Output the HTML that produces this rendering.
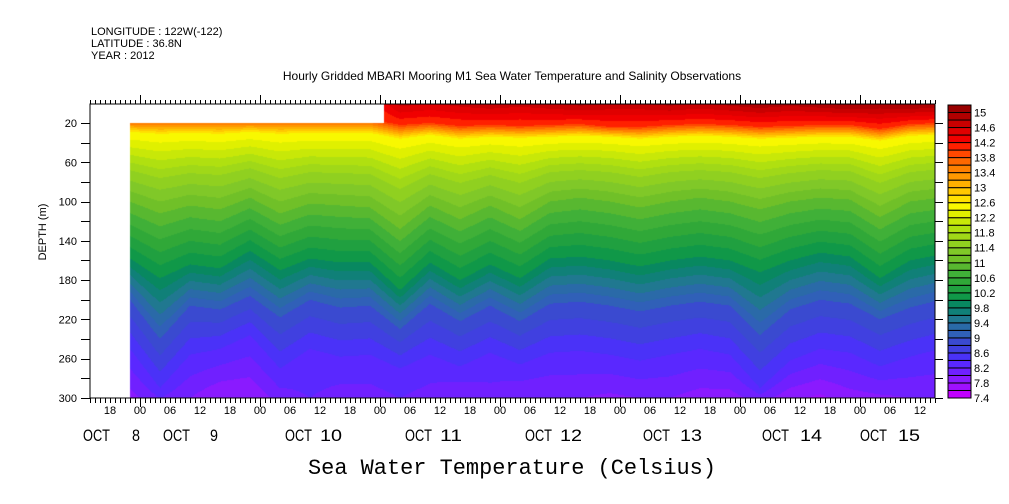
<!DOCTYPE html>
<html><head><meta charset="utf-8"><style>
html,body{margin:0;padding:0;background:#fff;width:1009px;height:504px;overflow:hidden}
#wrap{position:relative;width:1009px;height:504px}
canvas,svg{position:absolute;left:0;top:0}
text{font-family:"Liberation Sans",sans-serif;fill:#000}
</style></head><body>
<div id="wrap">
<canvas id="cv" width="1009" height="504"></canvas>
<svg id="sv" width="1009" height="504"></svg>
</div>
<script>
// ---- data (hours since Oct 8 00:00) ----
const times = [-2,4,10,16,22,28,34,40,46,52,58,64,70,76,82,88,94,100,106,112,118,124,130,136,142,148,154,160];
const surfTemp = [14.0,14.0,14.0,14.0,14.0,14.0,14.0,14.0,14.0,14.7,14.6,14.7,14.8,14.7,14.8,14.9,14.8,14.8,14.9,14.8,14.9,15.0,14.9,15.0,15.1,15.0,15.1,15.0];
const depth14 = [16,16,16,16,16,16,16,16,16,22,20,23,22,23,22,21,24,24,22,21,22,24,23,22,22,26,21,20];
const depth126 = [29,31,30,31,29,31,30,30,30,36,32,36,34,35,34,33,34,36,34,33,34,36,35,34,34,38,33,32];
const depth116 = [68,76,71,73,66,76,70,71,72,87,72,81,73,81,70,68,70,75,70,68,70,76,71,68,69,81,70,67];
const depth110 = [100,112,104,108,96,112,102,104,106,128,104,118,104,118,100,96,100,106,100,96,100,108,100,96,98,116,100,96];
const depth100 = [158,178,164,168,150,170,158,162,162,190,162,180,164,178,158,156,160,166,160,156,160,172,160,152,156,178,160,154];
const depth90 = [200,240,206,210,196,218,200,208,206,230,204,222,206,222,204,202,206,212,206,202,206,236,210,200,204,220,208,200];
const depth84 = [250,290,256,250,236,270,250,258,256,270,256,268,254,266,254,252,256,262,256,250,256,290,262,250,254,268,258,250];
const bottomTemp = [7.9,8.2,8.0,7.8,7.8,8.1,8.2,8.1,8.1,8.2,8.1,8.0,8.1,8.0,8.0,8.0,7.95,8.0,8.0,7.9,7.9,8.1,7.85,7.75,7.9,7.95,8.0,8.0];
const levelColors = ["#c000ff","#a010ff","#8a1aff","#7020ff","#5a28ff","#4a32f8","#4040e0","#3a4ad0","#3060b8","#2a6aa8","#207890","#108078","#088860","#109848","#20a040","#30a838","#40b038","#58b830","#70c028","#80c828","#90d020","#a0d818","#b0e010","#c8e808","#e0f000","#f8f800","#ffe000","#ffc800","#ffb000","#ff9800","#ff8000","#ff6800","#ff4800","#ff2000","#f00000","#e00000","#c80000","#b00000","#980000"];
const levelMin = 7.4, levelStep = 0.2;
const depthTicks = [20,60,100,140,180,220,260,300];
const hourLabels = ["18","00","06","12","18","00","06","12","18","00","06","12","18","00","06","12","18","00","06","12","18","00","06","12","18","00","06","12"];
const dayNames = ["8","9","10","11","12","13","14","15"];
const cbLabels = [15,14.6,14.2,13.8,13.4,13,12.6,12.2,11.8,11.4,11,10.6,10.2,9.8,9.4,9,8.6,8.2,7.8,7.4];

// ---- axes ----
const X0=90, X1=935, Y0=104, Y1=398;
const xs = h => 140 + 5*h;
const ys = d => 123 + (d-20)*0.982;
const dataStartH = -2, topDataStartH = 48.8, endH = 159;

// ---- heatmap ----
const cv=document.getElementById('cv'), ctx=cv.getContext('2d');
function hex(c){return [parseInt(c.slice(1,3),16),parseInt(c.slice(3,5),16),parseInt(c.slice(5,7),16)];}
const rgb=levelColors.map(hex);
const x0=Math.round(xs(dataStartH)), x1=Math.round(xs(endH));
const img=ctx.createImageData(x1-x0, Y1-Y0);
for(let px=x0;px<x1;px++){
  const h=(px+0.5-140)/5;
  let i=0; while(i<times.length-2 && times[i+1]<h) i++;
  const f=Math.max(0,Math.min(1,(h-times[i])/(times[i+1]-times[i])));
  const L=a=>a[i]+(a[i+1]-a[i])*f;
  const kd=[0,L(depth14),L(depth126),L(depth116),L(depth110),L(depth100),L(depth90),L(depth84),300];
  const kt=[L(surfTemp),14.0,12.6,11.6,11.0,10.0,9.0,8.4,L(bottomTemp)];
  for(let py=Y0;py<Y1;py++){
    const d=20+(py+0.5-123)/0.982;
    const o=((py-Y0)*(x1-x0)+(px-x0))*4;
    if(h<topDataStartH && d<20){img.data[o]=255;img.data[o+1]=255;img.data[o+2]=255;img.data[o+3]=255;continue;}
    let k=0; while(k<kd.length-2 && kd[k+1]<d) k++;
    const g=Math.max(0,Math.min(1,(d-kd[k])/(kd[k+1]-kd[k])));
    const T=kt[k]+(kt[k+1]-kt[k])*g;
    let b=Math.floor((T-levelMin)/levelStep); b=Math.max(0,Math.min(rgb.length-1,b));
    img.data[o]=rgb[b][0];img.data[o+1]=rgb[b][1];img.data[o+2]=rgb[b][2];img.data[o+3]=255;
  }
}
ctx.putImageData(img,x0,Y0);

// ---- svg ----
const sv=document.getElementById('sv'), NS='http://www.w3.org/2000/svg';
function el(t,a,txt){const e=document.createElementNS(NS,t);for(const k in a)e.setAttribute(k,a[k]);if(txt!==undefined)e.textContent=txt;sv.appendChild(e);return e;}
let e;
e=el('rect',{x:X0,y:Y0,width:X1-X0,height:Y1-Y0,fill:'none',stroke:'#000','stroke-width':1});


let tk='';
for(let h=-10;h<=159;h++){
  const x=xs(h)+0.5, major=((h%24)+24)%24===0;
  tk+=`M${x} ${Y0}V${Y0-(major?9:4)}M${x} ${Y1}V${Y1+(major?9:5)}`;
}
e=el('path',{d:tk,stroke:'#000','stroke-width':1,fill:'none'});


let dt='';
for(let d=20;d<=300;d+=20){const y=Math.round(ys(d))+0.5;dt+=`M${X0} ${y}H${X0-9}M${X1} ${y}H${X1+8}`;}
e=el('path',{d:dt,stroke:'#000','stroke-width':1,fill:'none'});


depthTicks.forEach(d=>{
  const t=el('text',{x:77,y:ys(d)+4,'font-size':11,'text-anchor':'end'},String(d));
  
  
});
e=el('text',{x:0,y:0,'font-size':11,'text-anchor':'middle',transform:'translate(46,232) rotate(-90)'},'DEPTH (m)');


hourLabels.forEach((s,j)=>{
  const t=el('text',{x:xs(-6+6*j),y:414,'font-size':11,'text-anchor':'middle'},s);
  
  
});
const octX=[83,163,285,405,525,643,762,860], numX=[132,210,320,440,560,680,800,898];
dayNames.forEach((s,j)=>{
  const a=el('text',{x:octX[j],y:441,'font-size':17,textLength:27,lengthAdjust:'spacingAndGlyphs'},'OCT');
  
  
  const b=el('text',{x:numX[j],y:441,'font-size':17,textLength:s.length>1?22:8,lengthAdjust:'spacingAndGlyphs'},s);
  
  
});
e=el('text',{x:512,y:474,'font-size':22,'text-anchor':'middle',style:'font-family:"Liberation Mono",monospace',textLength:408,lengthAdjust:'spacingAndGlyphs'},'Sea Water Temperature (Celsius)');


[['LONGITUDE : 122W(-122)',35],['LATITUDE : 36.8N',47],['YEAR : 2012',59]].forEach(([s,y])=>{
  const t=el('text',{x:91,y:y,'font-size':11},s);
  
  
});
e=el('text',{x:512,y:80,'font-size':12,'text-anchor':'middle'},'Hourly Gridded MBARI Mooring M1 Sea Water Temperature and Salinity Observations');


const CBX=948, CBW=23, CBB=398, bandH=(398-105)/levelColors.length;
levelColors.forEach((c,j)=>{
  const r=el('rect',{x:CBX,y:CBB-(j+1)*bandH,width:CBW,height:bandH,fill:c,stroke:'#000','stroke-width':1});
  
  
});
cbLabels.forEach(v=>{
  const t=el('text',{x:974,y:CBB-(v-levelMin)/levelStep*bandH+4,'font-size':11},String(v));
  
  
});
</script>
</body></html>
